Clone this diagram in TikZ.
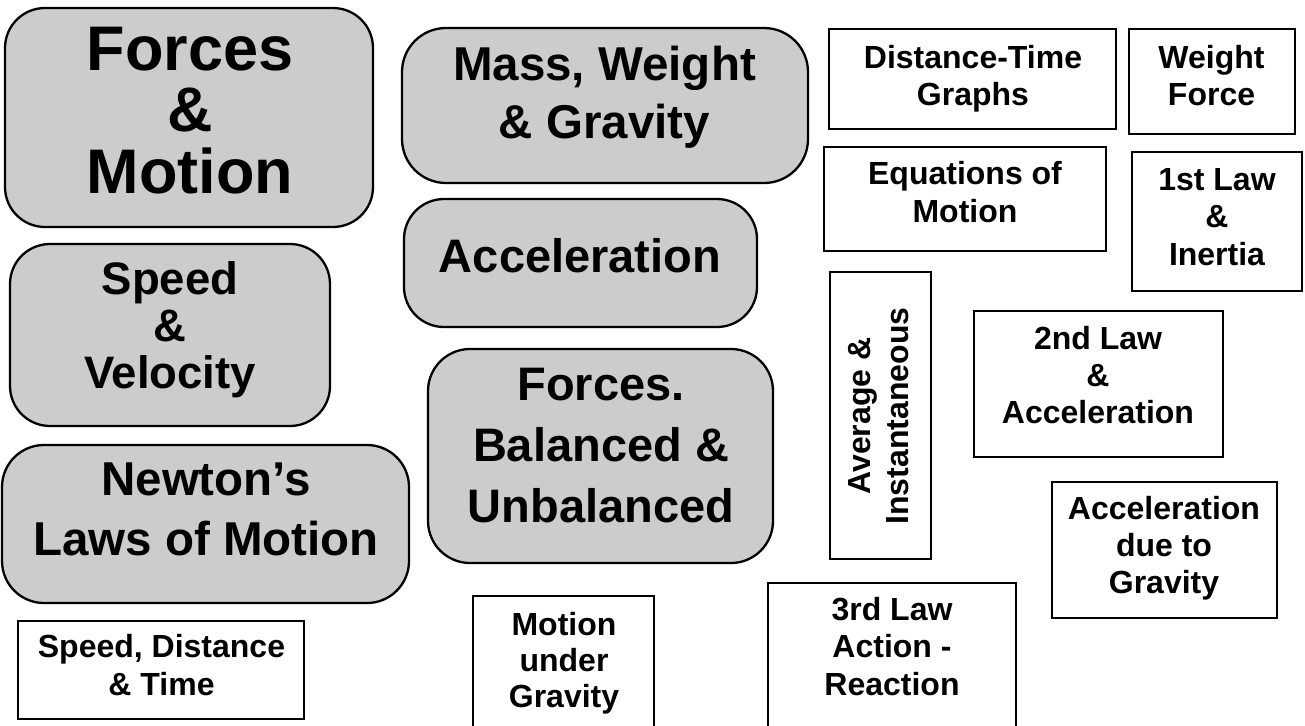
\documentclass[tikz,border=0pt]{standalone}
\usepackage{fontspec}
\setmainfont{Liberation Sans}
\definecolor{boxgray}{RGB}{204,204,204}
\begin{document}
\begin{tikzpicture}[x=1pt,y=-1pt,
  box/.style={draw=black, line width=2.3pt, inner sep=0pt, outer sep=0pt},
  graybox/.style={box, fill=boxgray, rounded corners=#1},
  whitebox/.style={box, fill=white},
  lbl/.style 2 args={inner sep=0pt, anchor=base, align=center, font=\bfseries\fontsize{#1}{#2}\selectfont},
]
\useasboundingbox[fill=white] (0,0) rectangle (1305,725);

% gray rounded boxes (text anchored at the baseline of its last line)
\node[graybox=40pt, minimum width=368pt, minimum height=219pt] (fm) at (189,117.5) {};
\node[lbl={63}{61.3}] (fmt) at (190,193) {Forces\\\&\\Motion};

\node[graybox=44pt, minimum width=406pt, minimum height=155pt] (mwg) at (605,105.5) {};
\node[lbl={47.5}{58}] (mwgt) at (604.5,138) {Mass, Weight\\\& Gravity};

\node[graybox=40pt, minimum width=353pt, minimum height=128pt] (acc) at (580.5,263) {};
\node[lbl={47}{58}] (acct) at (580,272) {Acceleration};

\node[graybox=40pt, minimum width=320pt, minimum height=182pt] (sv) at (170,335) {};
\node[lbl={45.5}{47}] (svt) at (170,388) {Speed\\\&\\Velocity};

\node[graybox=42pt, minimum width=407pt, minimum height=158pt] (nlm) at (205.5,524) {};
\node[lbl={47.5}{60}] (nlmt) at (206,555) {Newton’s\\Laws of Motion};

\node[graybox=42pt, minimum width=345pt, minimum height=214pt] (fbu) at (600.5,456) {};
\node[lbl={47}{61}] (fbut) at (601,522) {Forces.\\Balanced \&\\Unbalanced};

% white boxes
\node[whitebox, minimum width=286pt, minimum height=98pt] (sdt) at (161,670) {};
\node[lbl={32}{38}] (sdtt) at (161.5,695) {Speed, Distance\\\& Time};

\node[whitebox, minimum width=181pt, minimum height=149pt] (mug) at (563.5,670.5) {};
\node[lbl={32}{36}] (mugt) at (564,707) {Motion\\under\\Gravity};

\node[whitebox, minimum width=287pt, minimum height=100pt] (dtg) at (972.5,79) {};
\node[lbl={32}{37}] (dtgt) at (973,105) {Distance-Time\\Graphs};

\node[whitebox, minimum width=166pt, minimum height=105pt] (wf) at (1212,81.5) {};
\node[lbl={32}{37}] (wft) at (1211.5,105) {Weight\\Force};

\node[whitebox, minimum width=282pt, minimum height=104pt] (eom) at (965,199) {};
\node[lbl={32}{38}] (eomt) at (965,222) {Equations of\\Motion};

\node[whitebox, minimum width=170pt, minimum height=139pt] (fli) at (1217,221.5) {};
\node[lbl={32}{37.5}] (flit) at (1217,265) {1st Law\\\&\\Inertia};

\node[whitebox, minimum width=101pt, minimum height=287pt] (ai) at (880.5,415.5) {};
\node[lbl={32}{38}, rotate=90] (ait) at (908,416) {Average \&\\Instantaneous};

\node[whitebox, minimum width=249pt, minimum height=146pt] (sla) at (1098.5,384) {};
\node[lbl={32}{37}] (slat) at (1098,423) {2nd Law\\\&\\Acceleration};

\node[whitebox, minimum width=225pt, minimum height=136pt] (adg) at (1164.5,550) {};
\node[lbl={32}{37}] (adgt) at (1164,593) {Acceleration\\due to\\Gravity};

\node[whitebox, minimum width=248pt, minimum height=162pt] (tla) at (892,664) {};
\node[lbl={32}{37.5}] (tlat) at (892,695) {3rd Law\\Action -\\Reaction};
\end{tikzpicture}
\end{document}
